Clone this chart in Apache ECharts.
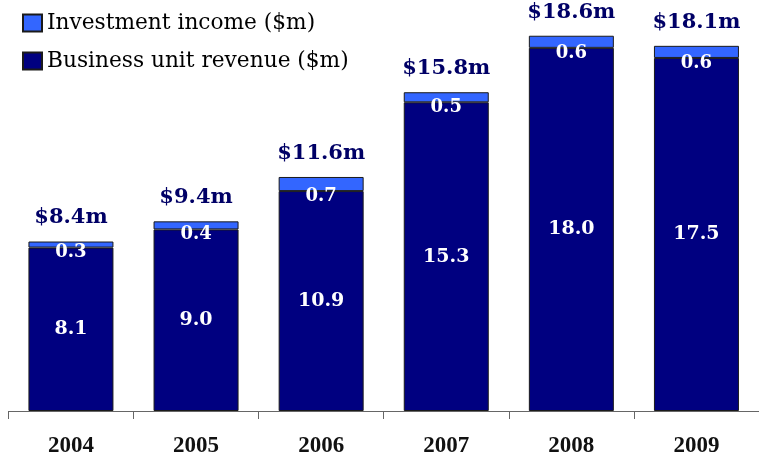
<!DOCTYPE html>
<html>
<head>
<meta charset="utf-8">
<script src="https://cdn.jsdelivr.net/npm/echarts@6/dist/echarts.min.js"></script>
<style>
  html, body { margin: 0; padding: 0; background: #fff; }
  #chart { width: 759px; height: 458px; }
</style>
</head>
<body>
<div id="chart"></div>
<script>
// Revenue breakdown by year ($m)
const years = ['2004', '2005', '2006', '2007', '2008', '2009'];
const businessRevenue = [8.1, 9.0, 10.9, 15.3, 18.0, 17.5];
const investmentIncome = [0.3, 0.4, 0.7, 0.5, 0.6, 0.6];

const totals = years.map((_, i) => +(businessRevenue[i] + investmentIncome[i]).toFixed(1));

const NAVY = '#000080';
const LIGHT = '#3366FF';
const serif = 'DejaVu Serif';

const chart = echarts.init(document.getElementById('chart'), null, { renderer: 'canvas' });

chart.setOption({
  animation: false,
  backgroundColor: '#ffffff',
  grid: { left: 8.4, right: -4.2, top: 7.5, bottom: 46.5, containLabel: false },
  legend: {
    orient: 'vertical',
    left: 17,
    top: 7,
    itemWidth: 19,
    itemHeight: 17,
    itemGap: 16,
    icon: 'rect',
    data: ['Investment income ($m)', 'Business unit revenue ($m)'],
    textStyle: { fontFamily: serif, fontSize: 21.7, color: '#000', lineHeight: 21 }
  },
  xAxis: {
    type: 'category',
    data: years,
    axisLine: { lineStyle: { color: '#666', width: 1 } },
    axisTick: { show: true, length: 8, lineStyle: { color: '#666' } },
    axisLabel: {
      margin: 24,
      fontFamily: 'Liberation Serif',
      fontWeight: 'bold',
      fontSize: 23,
      color: '#111'
    }
  },
  yAxis: { type: 'value', min: 0, max: 20, show: false },
  series: [
    {
      name: 'Business unit revenue ($m)',
      type: 'bar',
      stack: 'rev',
      barWidth: 85,
      data: businessRevenue,
      itemStyle: { color: NAVY, borderColor: '#1a1a1a', borderWidth: 1 },
      label: {
        show: true,
        position: 'inside',
        formatter: p => p.value.toFixed(1),
        fontFamily: serif,
        fontWeight: 'bold',
        fontSize: 19,
        color: '#fff'
      }
    },
    {
      name: 'Investment income ($m)',
      type: 'bar',
      stack: 'rev',
      barWidth: 85,
      data: investmentIncome,
      itemStyle: { color: LIGHT, borderColor: '#1a1a1a', borderWidth: 1 },
      label: {
        show: true,
        position: 'bottom',
        distance: -4,
        formatter: p => p.value.toFixed(1),
        fontFamily: serif,
        fontWeight: 'bold',
        fontSize: 18,
        color: '#fff'
      }
    },
    {
      // invisible overlay carrying the yearly total label
      name: 'Total',
      type: 'bar',
      barWidth: 85,
      barGap: '-100%',
      silent: true,
      z: 1,
      data: totals,
      itemStyle: { color: 'rgba(0,0,0,0)', borderWidth: 0 },
      label: {
        show: true,
        position: 'top',
        distance: 13,
        formatter: p => '$' + p.value.toFixed(1) + 'm',
        fontFamily: serif,
        fontWeight: 'bold',
        fontSize: 21,
        color: '#000066'
      }
    }
  ]
});
</script>
</body>
</html>
